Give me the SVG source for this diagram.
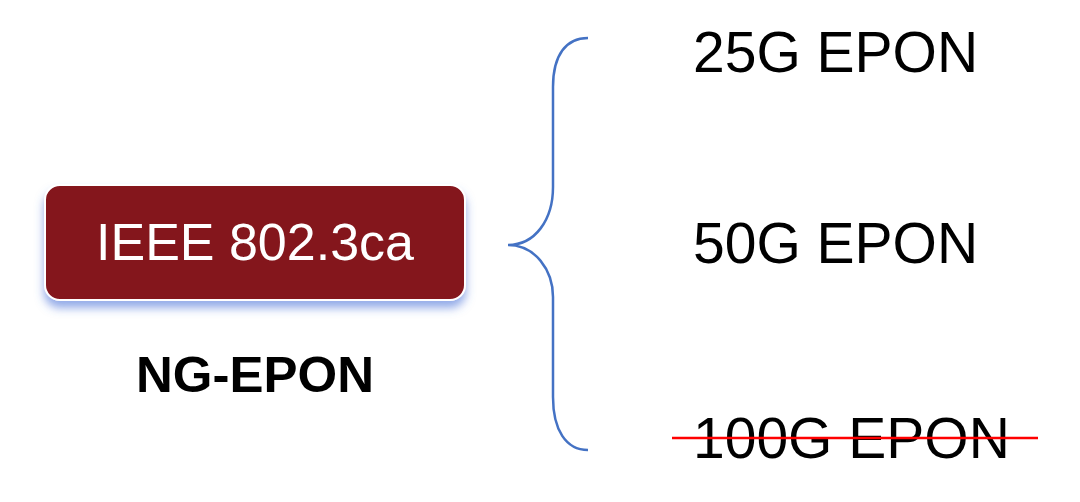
<svg xmlns="http://www.w3.org/2000/svg" width="1080" height="502" viewBox="0 0 1080 502">
<defs>
<filter id="sh" x="-10%" y="-20%" width="120%" height="160%">
<feGaussianBlur in="SourceAlpha" stdDeviation="5"/>
<feOffset dx="0" dy="7" result="b"/>
<feFlood flood-color="#4a72d8" flood-opacity="0.6"/>
<feComposite in2="b" operator="in"/>
<feMerge><feMergeNode/><feMergeNode in="SourceGraphic"/></feMerge>
</filter>
</defs>
<style>
.t{font-family:"Liberation Sans",Arial,sans-serif;fill:#000;font-size:57px}
</style>
<rect width="1080" height="502" fill="#fff"/>
<g id="box">
<rect x="45" y="185" width="420" height="115" rx="15" fill="#84141F" stroke="#fff" stroke-width="2" filter="url(#sh)"/>
<text x="255" y="260" text-anchor="middle" font-family="Liberation Sans, Arial, sans-serif" font-size="52" fill="#fff">IEEE 802.3ca</text>
</g>
<g id="label">
<text x="255" y="392" text-anchor="middle" font-family="Liberation Sans, Arial, sans-serif" font-size="50" font-weight="bold" fill="#000" textLength="238" lengthAdjust="spacingAndGlyphs">NG-EPON</text>
</g>
<g id="connectors">
<path d="M588,38 C566,38 553,55 553,87 L553,187 C553,220 535,245 508,245 M508,245 C535,245 553,270 553,297 L553,397 C553,430 566,450 588,450" fill="none" stroke="#4472C4" stroke-width="2.5"/>
</g>
<g id="n25"><text class="t" x="693" y="72">25G EPON</text></g>
<g id="n50"><text class="t" x="693" y="263">50G EPON</text></g>
<g id="n100"><text class="t" x="693" y="458">100G EPON</text>
<line x1="672" y1="438" x2="1038" y2="438" stroke="#FF0000" stroke-width="2.5"/></g>
</svg>
